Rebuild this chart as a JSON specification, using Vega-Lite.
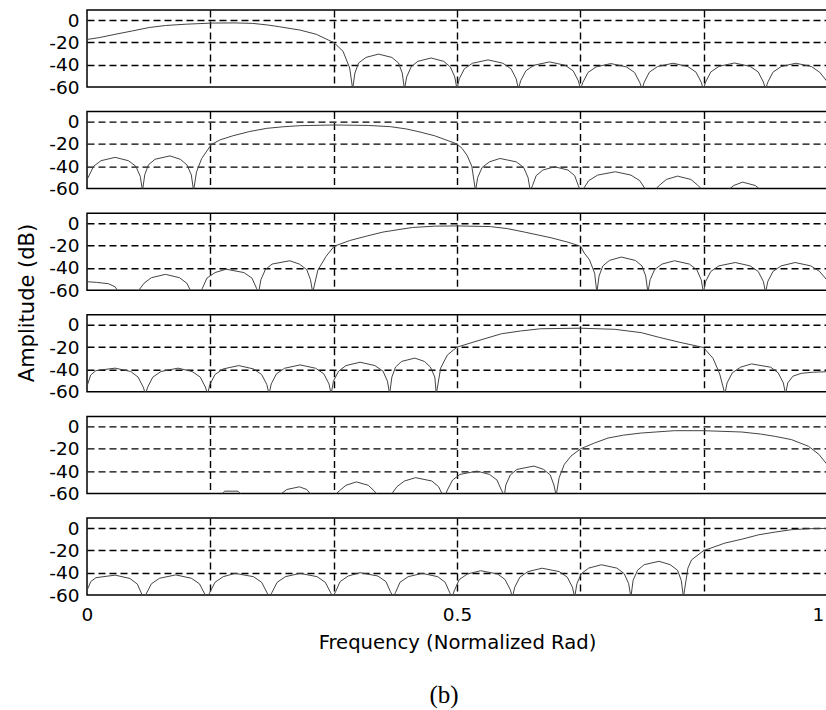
{
"$schema": "https://vega.github.io/schema/vega-lite/v6.json",
"background": "white",
"padding": {"left": 16, "top": 9, "right": 0, "bottom": 5},
"title": {"text": "(b)", "orient": "bottom", "anchor": "middle", "font": "Liberation Serif", "fontSize": 25, "fontWeight": "normal", "color": "black", "offset": 31, "dx": 22},
"data": {"values": [
{"p":1,"f":0,"db":-17.4},{"p":1,"f":0.016,"db":-15.8},{"p":1,"f":0.038,"db":-12.8},{"p":1,"f":0.061,"db":-9.8},{"p":1,"f":0.084,"db":-6.7},{"p":1,"f":0.106,"db":-4.9},{"p":1,"f":0.134,"db":-3.7},{"p":1,"f":0.17,"db":-2.7},{"p":1,"f":0.2,"db":-2.6},{"p":1,"f":0.224,"db":-3},{"p":1,"f":0.245,"db":-4.5},{"p":1,"f":0.26,"db":-6},{"p":1,"f":0.288,"db":-9},{"p":1,"f":0.31,"db":-12.8},{"p":1,"f":0.334,"db":-20.4},{"p":1,"f":0.346,"db":-28},{"p":1,"f":0.355,"db":-43},{"p":1,"f":0.359,"db":-62},
{"p":1,"f":0.362,"db":-47.5},{"p":1,"f":0.367,"db":-38.5},{"p":1,"f":0.377,"db":-33.5},{"p":1,"f":0.394,"db":-30.5},{"p":1,"f":0.412,"db":-33.5},{"p":1,"f":0.421,"db":-38.5},{"p":1,"f":0.426,"db":-47.5},{"p":1,"f":0.429,"db":-62},
{"p":1,"f":0.432,"db":-51},{"p":1,"f":0.438,"db":-42},{"p":1,"f":0.447,"db":-37},{"p":1,"f":0.465,"db":-34},{"p":1,"f":0.482,"db":-37},{"p":1,"f":0.491,"db":-42},{"p":1,"f":0.497,"db":-51},{"p":1,"f":0.5,"db":-62},
{"p":1,"f":0.503,"db":-52.7},{"p":1,"f":0.51,"db":-43.7},{"p":1,"f":0.521,"db":-38.7},{"p":1,"f":0.542,"db":-35.7},{"p":1,"f":0.562,"db":-38.7},{"p":1,"f":0.573,"db":-43.7},{"p":1,"f":0.58,"db":-52.7},{"p":1,"f":0.583,"db":-62},
{"p":1,"f":0.586,"db":-54.5},{"p":1,"f":0.593,"db":-45.5},{"p":1,"f":0.604,"db":-40.5},{"p":1,"f":0.625,"db":-37.5},{"p":1,"f":0.646,"db":-40.5},{"p":1,"f":0.657,"db":-45.5},{"p":1,"f":0.664,"db":-54.5},{"p":1,"f":0.667,"db":-62},
{"p":1,"f":0.67,"db":-56},{"p":1,"f":0.677,"db":-47},{"p":1,"f":0.688,"db":-42},{"p":1,"f":0.708,"db":-39},{"p":1,"f":0.729,"db":-42},{"p":1,"f":0.74,"db":-47},{"p":1,"f":0.747,"db":-56},{"p":1,"f":0.75,"db":-62},
{"p":1,"f":0.753,"db":-55.7},{"p":1,"f":0.76,"db":-46.7},{"p":1,"f":0.771,"db":-41.7},{"p":1,"f":0.792,"db":-38.7},{"p":1,"f":0.812,"db":-41.7},{"p":1,"f":0.823,"db":-46.7},{"p":1,"f":0.83,"db":-55.7},{"p":1,"f":0.833,"db":-62},
{"p":1,"f":0.836,"db":-55.5},{"p":1,"f":0.843,"db":-46.5},{"p":1,"f":0.854,"db":-41.5},{"p":1,"f":0.875,"db":-38.5},{"p":1,"f":0.896,"db":-41.5},{"p":1,"f":0.907,"db":-46.5},{"p":1,"f":0.914,"db":-55.5},{"p":1,"f":0.917,"db":-62},
{"p":1,"f":0.92,"db":-55.7},{"p":1,"f":0.927,"db":-46.7},{"p":1,"f":0.938,"db":-41.7},{"p":1,"f":0.958,"db":-38.7},{"p":1,"f":0.979,"db":-41.7},{"p":1,"f":0.99,"db":-46.7},{"p":1,"f":1,"db":-55},

{"p":2,"f":0,"db":-52},{"p":2,"f":0.009,"db":-40},{"p":2,"f":0.019,"db":-35},{"p":2,"f":0.038,"db":-32},{"p":2,"f":0.056,"db":-35},{"p":2,"f":0.066,"db":-40},{"p":2,"f":0.072,"db":-49},{"p":2,"f":0.075,"db":-62},
{"p":2,"f":0.078,"db":-47.7},{"p":2,"f":0.083,"db":-38.7},{"p":2,"f":0.092,"db":-33.7},{"p":2,"f":0.112,"db":-30.7},{"p":2,"f":0.126,"db":-33.7},{"p":2,"f":0.135,"db":-38.7},{"p":2,"f":0.141,"db":-47.7},{"p":2,"f":0.144,"db":-62},
{"p":2,"f":0.148,"db":-45},{"p":2,"f":0.155,"db":-33},{"p":2,"f":0.168,"db":-20.5},{"p":2,"f":0.18,"db":-16.3},{"p":2,"f":0.197,"db":-12.7},{"p":2,"f":0.22,"db":-8.8},{"p":2,"f":0.243,"db":-6},{"p":2,"f":0.265,"db":-4.6},{"p":2,"f":0.288,"db":-3.6},{"p":2,"f":0.334,"db":-3},{"p":2,"f":0.38,"db":-3.4},{"p":2,"f":0.41,"db":-4.5},{"p":2,"f":0.432,"db":-6.6},{"p":2,"f":0.45,"db":-9.3},{"p":2,"f":0.47,"db":-12.7},{"p":2,"f":0.5,"db":-20},{"p":2,"f":0.507,"db":-24},{"p":2,"f":0.514,"db":-30.7},{"p":2,"f":0.52,"db":-40},{"p":2,"f":0.525,"db":-62},
{"p":2,"f":0.528,"db":-50},{"p":2,"f":0.534,"db":-41},{"p":2,"f":0.544,"db":-36},{"p":2,"f":0.558,"db":-33},{"p":2,"f":0.58,"db":-36},{"p":2,"f":0.59,"db":-41},{"p":2,"f":0.596,"db":-50},{"p":2,"f":0.599,"db":-62},
{"p":2,"f":0.602,"db":-57.4},{"p":2,"f":0.607,"db":-48.4},{"p":2,"f":0.616,"db":-43.4},{"p":2,"f":0.632,"db":-40.4},{"p":2,"f":0.65,"db":-43.4},{"p":2,"f":0.659,"db":-48.4},{"p":2,"f":0.664,"db":-57.4},{"p":2,"f":0.667,"db":-62},
{"p":2,"f":0.671,"db":-60},{"p":2,"f":0.678,"db":-52.9},{"p":2,"f":0.69,"db":-47.9},{"p":2,"f":0.714,"db":-44.9},{"p":2,"f":0.735,"db":-47.9},{"p":2,"f":0.747,"db":-52.9},{"p":2,"f":0.754,"db":-60},{"p":2,"f":0.758,"db":-62},{"p":2,"f":0.766,"db":-62},
{"p":2,"f":0.774,"db":-56.8},{"p":2,"f":0.783,"db":-51.8},{"p":2,"f":0.798,"db":-48.8},{"p":2,"f":0.816,"db":-51.8},{"p":2,"f":0.825,"db":-56.8},{"p":2,"f":0.833,"db":-62},{"p":2,"f":0.86,"db":-62},
{"p":2,"f":0.867,"db":-61},{"p":2,"f":0.874,"db":-57.2},{"p":2,"f":0.886,"db":-54.2},{"p":2,"f":0.903,"db":-57.2},{"p":2,"f":0.91,"db":-61},{"p":2,"f":0.917,"db":-62},{"p":2,"f":1,"db":-62},

{"p":3,"f":0,"db":-52.4},{"p":3,"f":0.013,"db":-53},{"p":3,"f":0.029,"db":-54.2},{"p":3,"f":0.038,"db":-57},{"p":3,"f":0.043,"db":-62},{"p":3,"f":0.068,"db":-62},
{"p":3,"f":0.077,"db":-53.8},{"p":3,"f":0.087,"db":-48.8},{"p":3,"f":0.106,"db":-45.8},{"p":3,"f":0.125,"db":-48.8},{"p":3,"f":0.135,"db":-53.8},{"p":3,"f":0.141,"db":-62},{"p":3,"f":0.153,"db":-62},
{"p":3,"f":0.156,"db":-58.2},{"p":3,"f":0.162,"db":-49.2},{"p":3,"f":0.173,"db":-44.2},{"p":3,"f":0.188,"db":-41.2},{"p":3,"f":0.212,"db":-44.2},{"p":3,"f":0.223,"db":-49.2},{"p":3,"f":0.229,"db":-58.2},{"p":3,"f":0.232,"db":-62},
{"p":3,"f":0.235,"db":-50.6},{"p":3,"f":0.241,"db":-41.6},{"p":3,"f":0.25,"db":-36.6},{"p":3,"f":0.274,"db":-33.6},{"p":3,"f":0.287,"db":-36.6},{"p":3,"f":0.297,"db":-41.6},{"p":3,"f":0.302,"db":-50.6},{"p":3,"f":0.305,"db":-62},
{"p":3,"f":0.312,"db":-42},{"p":3,"f":0.323,"db":-29.7},{"p":3,"f":0.334,"db":-20.6},{"p":3,"f":0.355,"db":-15.5},{"p":3,"f":0.378,"db":-11.5},{"p":3,"f":0.4,"db":-7.9},{"p":3,"f":0.423,"db":-5.5},{"p":3,"f":0.44,"db":-3.8},{"p":3,"f":0.47,"db":-2.6},{"p":3,"f":0.5,"db":-2.4},{"p":3,"f":0.545,"db":-3},{"p":3,"f":0.568,"db":-4.8},{"p":3,"f":0.591,"db":-7.9},{"p":3,"f":0.627,"db":-13},{"p":3,"f":0.65,"db":-17},{"p":3,"f":0.667,"db":-20.6},{"p":3,"f":0.672,"db":-26.7},{"p":3,"f":0.679,"db":-32.7},{"p":3,"f":0.686,"db":-44.8},{"p":3,"f":0.689,"db":-62},
{"p":3,"f":0.692,"db":-47.3},{"p":3,"f":0.697,"db":-38.3},{"p":3,"f":0.706,"db":-33.3},{"p":3,"f":0.722,"db":-30.3},{"p":3,"f":0.741,"db":-33.3},{"p":3,"f":0.75,"db":-38.3},{"p":3,"f":0.755,"db":-47.3},{"p":3,"f":0.758,"db":-62},
{"p":3,"f":0.761,"db":-50.6},{"p":3,"f":0.767,"db":-41.6},{"p":3,"f":0.777,"db":-36.6},{"p":3,"f":0.794,"db":-33.6},{"p":3,"f":0.814,"db":-36.6},{"p":3,"f":0.824,"db":-41.6},{"p":3,"f":0.83,"db":-50.6},{"p":3,"f":0.833,"db":-62},
{"p":3,"f":0.836,"db":-52.2},{"p":3,"f":0.843,"db":-43.2},{"p":3,"f":0.854,"db":-38.2},{"p":3,"f":0.876,"db":-35.2},{"p":3,"f":0.896,"db":-38.2},{"p":3,"f":0.907,"db":-43.2},{"p":3,"f":0.914,"db":-52.2},{"p":3,"f":0.917,"db":-62},
{"p":3,"f":0.92,"db":-52.2},{"p":3,"f":0.927,"db":-43.2},{"p":3,"f":0.938,"db":-38.2},{"p":3,"f":0.957,"db":-35.2},{"p":3,"f":0.978,"db":-38.2},{"p":3,"f":0.99,"db":-43.2},{"p":3,"f":1,"db":-51},

{"p":4,"f":0,"db":-55},{"p":4,"f":0.005,"db":-45},{"p":4,"f":0.012,"db":-41},{"p":4,"f":0.038,"db":-38.8},{"p":4,"f":0.059,"db":-41.8},{"p":4,"f":0.069,"db":-46.8},{"p":4,"f":0.076,"db":-55.8},{"p":4,"f":0.079,"db":-62},
{"p":4,"f":0.082,"db":-55.8},{"p":4,"f":0.089,"db":-46.8},{"p":4,"f":0.1,"db":-41.8},{"p":4,"f":0.123,"db":-38.8},{"p":4,"f":0.142,"db":-41.8},{"p":4,"f":0.153,"db":-46.8},{"p":4,"f":0.16,"db":-55.8},{"p":4,"f":0.163,"db":-62},
{"p":4,"f":0.166,"db":-53.5},{"p":4,"f":0.173,"db":-44.5},{"p":4,"f":0.184,"db":-39.5},{"p":4,"f":0.205,"db":-36.5},{"p":4,"f":0.225,"db":-39.5},{"p":4,"f":0.236,"db":-44.5},{"p":4,"f":0.243,"db":-53.5},{"p":4,"f":0.246,"db":-62},
{"p":4,"f":0.249,"db":-52.9},{"p":4,"f":0.256,"db":-43.9},{"p":4,"f":0.267,"db":-38.9},{"p":4,"f":0.288,"db":-35.9},{"p":4,"f":0.309,"db":-38.9},{"p":4,"f":0.32,"db":-43.9},{"p":4,"f":0.327,"db":-52.9},{"p":4,"f":0.33,"db":-62},
{"p":4,"f":0.333,"db":-50.5},{"p":4,"f":0.34,"db":-41.5},{"p":4,"f":0.35,"db":-36.5},{"p":4,"f":0.369,"db":-33.5},{"p":4,"f":0.389,"db":-36.5},{"p":4,"f":0.4,"db":-41.5},{"p":4,"f":0.406,"db":-50.5},{"p":4,"f":0.409,"db":-62},
{"p":4,"f":0.412,"db":-46.8},{"p":4,"f":0.417,"db":-37.8},{"p":4,"f":0.425,"db":-32.8},{"p":4,"f":0.443,"db":-29.8},{"p":4,"f":0.456,"db":-32.8},{"p":4,"f":0.464,"db":-37.8},{"p":4,"f":0.47,"db":-46.8},{"p":4,"f":0.472,"db":-62},
{"p":4,"f":0.478,"db":-38.6},{"p":4,"f":0.487,"db":-27},{"p":4,"f":0.5,"db":-20},{"p":4,"f":0.523,"db":-15.3},{"p":4,"f":0.56,"db":-8},{"p":4,"f":0.586,"db":-5.5},{"p":4,"f":0.613,"db":-3.5},{"p":4,"f":0.667,"db":-3},{"p":4,"f":0.713,"db":-4},{"p":4,"f":0.749,"db":-7},{"p":4,"f":0.772,"db":-11},{"p":4,"f":0.8,"db":-15.5},{"p":4,"f":0.833,"db":-20.3},{"p":4,"f":0.846,"db":-30},{"p":4,"f":0.855,"db":-44},{"p":4,"f":0.862,"db":-62},
{"p":4,"f":0.865,"db":-52},{"p":4,"f":0.872,"db":-43},{"p":4,"f":0.883,"db":-38},{"p":4,"f":0.898,"db":-35},{"p":4,"f":0.924,"db":-38},{"p":4,"f":0.934,"db":-43},{"p":4,"f":0.941,"db":-52},{"p":4,"f":0.944,"db":-62},
{"p":4,"f":0.947,"db":-52},{"p":4,"f":0.954,"db":-46},{"p":4,"f":0.965,"db":-43.5},{"p":4,"f":0.98,"db":-42.5},{"p":4,"f":1,"db":-42},

{"p":5,"f":0,"db":-62},{"p":5,"f":0.18,"db":-62},{"p":5,"f":0.186,"db":-58},{"p":5,"f":0.204,"db":-58},{"p":5,"f":0.21,"db":-62},{"p":5,"f":0.255,"db":-62},
{"p":5,"f":0.262,"db":-60.5},{"p":5,"f":0.27,"db":-56.5},{"p":5,"f":0.287,"db":-54.1},{"p":5,"f":0.297,"db":-56.5},{"p":5,"f":0.302,"db":-60.5},{"p":5,"f":0.307,"db":-62},{"p":5,"f":0.334,"db":-62},
{"p":5,"f":0.341,"db":-57.7},{"p":5,"f":0.35,"db":-52.7},{"p":5,"f":0.364,"db":-49.7},{"p":5,"f":0.38,"db":-52.7},{"p":5,"f":0.388,"db":-57.7},{"p":5,"f":0.393,"db":-62},{"p":5,"f":0.41,"db":-62},
{"p":5,"f":0.419,"db":-53.9},{"p":5,"f":0.429,"db":-48.9},{"p":5,"f":0.444,"db":-45.9},{"p":5,"f":0.466,"db":-48.9},{"p":5,"f":0.475,"db":-53.9},{"p":5,"f":0.481,"db":-62},{"p":5,"f":0.484,"db":-62},
{"p":5,"f":0.487,"db":-57},{"p":5,"f":0.494,"db":-48},{"p":5,"f":0.504,"db":-43},{"p":5,"f":0.527,"db":-40},{"p":5,"f":0.544,"db":-43},{"p":5,"f":0.554,"db":-48},{"p":5,"f":0.56,"db":-57},{"p":5,"f":0.564,"db":-62},
{"p":5,"f":0.566,"db":-52.5},{"p":5,"f":0.572,"db":-43.5},{"p":5,"f":0.581,"db":-38.5},{"p":5,"f":0.604,"db":-35.5},{"p":5,"f":0.617,"db":-38.5},{"p":5,"f":0.626,"db":-43.5},{"p":5,"f":0.631,"db":-52.5},{"p":5,"f":0.634,"db":-62},
{"p":5,"f":0.638,"db":-46},{"p":5,"f":0.645,"db":-34},{"p":5,"f":0.654,"db":-26.6},{"p":5,"f":0.667,"db":-20},{"p":5,"f":0.686,"db":-14.8},{"p":5,"f":0.704,"db":-10.4},{"p":5,"f":0.725,"db":-7.8},{"p":5,"f":0.749,"db":-5.9},{"p":5,"f":0.794,"db":-3.8},{"p":5,"f":0.833,"db":-3.8},{"p":5,"f":0.885,"db":-5},{"p":5,"f":0.91,"db":-6.8},{"p":5,"f":0.93,"db":-8.9},{"p":5,"f":0.952,"db":-11.8},{"p":5,"f":0.975,"db":-17.8},{"p":5,"f":0.989,"db":-25},{"p":5,"f":1,"db":-34},

{"p":6,"f":0,"db":-56},{"p":6,"f":0.005,"db":-48},{"p":6,"f":0.012,"db":-44.5},{"p":6,"f":0.038,"db":-42.2},{"p":6,"f":0.058,"db":-45.2},{"p":6,"f":0.068,"db":-50.2},{"p":6,"f":0.074,"db":-59.2},{"p":6,"f":0.077,"db":-62},
{"p":6,"f":0.08,"db":-59},{"p":6,"f":0.087,"db":-50},{"p":6,"f":0.098,"db":-45},{"p":6,"f":0.12,"db":-42},{"p":6,"f":0.141,"db":-45},{"p":6,"f":0.152,"db":-50},{"p":6,"f":0.159,"db":-59},{"p":6,"f":0.163,"db":-62},
{"p":6,"f":0.166,"db":-57.6},{"p":6,"f":0.173,"db":-48.6},{"p":6,"f":0.184,"db":-43.6},{"p":6,"f":0.2,"db":-40.6},{"p":6,"f":0.225,"db":-43.6},{"p":6,"f":0.236,"db":-48.6},{"p":6,"f":0.243,"db":-57.6},{"p":6,"f":0.246,"db":-62},
{"p":6,"f":0.25,"db":-57.6},{"p":6,"f":0.257,"db":-48.6},{"p":6,"f":0.268,"db":-43.6},{"p":6,"f":0.288,"db":-40.6},{"p":6,"f":0.311,"db":-43.6},{"p":6,"f":0.322,"db":-48.6},{"p":6,"f":0.329,"db":-57.6},{"p":6,"f":0.332,"db":-62},
{"p":6,"f":0.336,"db":-57},{"p":6,"f":0.342,"db":-48},{"p":6,"f":0.353,"db":-43},{"p":6,"f":0.369,"db":-40},{"p":6,"f":0.393,"db":-43},{"p":6,"f":0.404,"db":-48},{"p":6,"f":0.41,"db":-57},{"p":6,"f":0.414,"db":-62},
{"p":6,"f":0.417,"db":-57.6},{"p":6,"f":0.423,"db":-48.6},{"p":6,"f":0.434,"db":-43.6},{"p":6,"f":0.453,"db":-40.6},{"p":6,"f":0.474,"db":-43.6},{"p":6,"f":0.484,"db":-48.6},{"p":6,"f":0.49,"db":-57.6},{"p":6,"f":0.493,"db":-62},
{"p":6,"f":0.497,"db":-55.2},{"p":6,"f":0.503,"db":-46.2},{"p":6,"f":0.514,"db":-41.2},{"p":6,"f":0.532,"db":-38.2},{"p":6,"f":0.555,"db":-41.2},{"p":6,"f":0.565,"db":-46.2},{"p":6,"f":0.572,"db":-55.2},{"p":6,"f":0.575,"db":-62},
{"p":6,"f":0.578,"db":-53},{"p":6,"f":0.585,"db":-44},{"p":6,"f":0.596,"db":-39},{"p":6,"f":0.615,"db":-36},{"p":6,"f":0.638,"db":-39},{"p":6,"f":0.649,"db":-44},{"p":6,"f":0.656,"db":-53},{"p":6,"f":0.659,"db":-62},
{"p":6,"f":0.662,"db":-49.9},{"p":6,"f":0.668,"db":-40.9},{"p":6,"f":0.678,"db":-35.9},{"p":6,"f":0.695,"db":-32.9},{"p":6,"f":0.716,"db":-35.9},{"p":6,"f":0.726,"db":-40.9},{"p":6,"f":0.732,"db":-49.9},{"p":6,"f":0.735,"db":-62},
{"p":6,"f":0.738,"db":-46.8},{"p":6,"f":0.744,"db":-37.8},{"p":6,"f":0.753,"db":-32.8},{"p":6,"f":0.773,"db":-29.8},{"p":6,"f":0.788,"db":-32.8},{"p":6,"f":0.798,"db":-37.8},{"p":6,"f":0.803,"db":-46.8},{"p":6,"f":0.806,"db":-62},
{"p":6,"f":0.812,"db":-36},{"p":6,"f":0.817,"db":-28.5},{"p":6,"f":0.833,"db":-20.3},{"p":6,"f":0.862,"db":-13.5},{"p":6,"f":0.885,"db":-10},{"p":6,"f":0.908,"db":-6},{"p":6,"f":0.93,"db":-3.6},{"p":6,"f":0.952,"db":-1.5},{"p":6,"f":0.975,"db":-0.6},{"p":6,"f":1,"db":-0.3}
]},
"facet": {"row": {"field": "p", "type": "ordinal", "header": {"labels": false, "title": "Amplitude (dB)", "titleFont": "DejaVu Sans", "titleFontSize": 21, "titleFontWeight": "normal", "titleColor": "black", "titlePadding": 0.5}}},
"spacing": {"row": 22.6},
"spec": {
  "width": 740,
  "height": 77,
  "mark": {"type": "line", "color": "#444", "strokeWidth": 1, "clip": true},
  "encoding": {
    "x": {"field": "f", "type": "quantitative", "scale": {"domain": [0, 1], "nice": false, "zero": false},
      "axis": {"title": "Frequency (Normalized Rad)", "titleFontSize": 19.6, "values": [0, 0.16667, 0.33333, 0.5, 0.66667, 0.83333, 1],
        "labelExpr": "datum.value == 0 ? '0' : datum.value == 0.5 ? '0.5' : datum.value == 1 ? '1' : ''",
        "labelFlush": false, "labelOverlap": false, "ticks": false, "domain": false, "labelPadding": 9, "titlePadding": 10,
        "labelOffset": {"condition": {"test": "datum.value == 1", "value": -9}, "value": 0},
        "gridOpacity": {"condition": {"test": "datum.value == 0 || datum.value == 1", "value": 0}, "value": 1}}},
    "y": {"field": "db", "type": "quantitative", "scale": {"domain": [-60, 9], "nice": false, "zero": false},
      "axis": {"title": null, "values": [0, -20, -40, -60], "labelExpr": "'' + datum.value", "ticks": false, "domain": false, "labelPadding": 7,
        "gridOpacity": {"condition": {"test": "datum.value == -60", "value": 0}, "value": 1}}}
  }
},
"config": {
  "view": {"stroke": "black", "strokeWidth": 1.5},
  "axis": {"labelFont": "DejaVu Sans", "labelFontSize": 18.5, "labelColor": "black", "titleFont": "DejaVu Sans", "titleFontSize": 19, "titleFontWeight": "normal", "titleColor": "black", "gridColor": "black", "gridDash": [7, 4], "gridWidth": 1.4}
}
}
